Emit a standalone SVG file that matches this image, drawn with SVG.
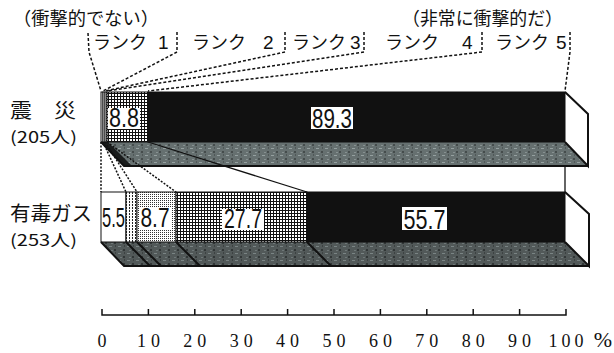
<svg xmlns="http://www.w3.org/2000/svg" width="614" height="353" viewBox="0 0 614 353">
<style>
.jp{font-family:"Noto Sans CJK JP","Noto Sans",sans-serif;fill:#111}
.rk{font-family:"Noto Sans CJK JP","Noto Sans",sans-serif;fill:#111;font-size:18px}
.rd{font-family:"Liberation Sans",Arial,sans-serif;fill:#111;font-size:19px}
.num{font-family:"Liberation Sans",Arial,sans-serif;fill:#111}
.ax{font-family:"Liberation Serif","Times New Roman",serif;font-size:18px;fill:#111;text-anchor:middle}
.dash{fill:none;stroke:#111;stroke-width:1.5;stroke-dasharray:3 2}
.dot{fill:none;stroke:#111;stroke-width:1.5;stroke-dasharray:2 1.5}
.solid{fill:none;stroke:#111;stroke-width:1.3}
.edge{fill:none;stroke:#111;stroke-width:2}
.seg{stroke:#111;stroke-width:1}
.lbox{fill:#fff}
</style>
<defs>
<pattern id="pGrid" width="3" height="3" patternUnits="userSpaceOnUse">
<rect width="3" height="3" fill="#fff"/><rect width="3" height="1" fill="#111"/><rect width="1" height="3" fill="#111"/>
</pattern>
<pattern id="pDots" width="2" height="2" patternUnits="userSpaceOnUse">
<rect width="2" height="2" fill="#fff"/><rect width="1" height="1" fill="#333"/>
</pattern>
<pattern id="pVert" width="3" height="3" patternUnits="userSpaceOnUse">
<rect width="3" height="3" fill="#fff"/><rect width="1" height="2" fill="#222"/>
</pattern>
<pattern id="pGray1" width="9" height="7" patternUnits="userSpaceOnUse">
<rect width="9" height="7" fill="#667070"/><rect x="1" y="1" width="3" height="1" fill="#95a0a0"/><rect x="6" y="4" width="2" height="2" fill="#454c4c"/><rect x="3" y="5" width="2" height="1" fill="#869090"/><rect x="7" y="0" width="1" height="2" fill="#505858"/>
</pattern>
<pattern id="pGray2" width="9" height="7" patternUnits="userSpaceOnUse">
<rect width="9" height="7" fill="#525959"/><rect x="1" y="1" width="3" height="1" fill="#7a8484"/><rect x="6" y="4" width="2" height="2" fill="#323737"/><rect x="3" y="5" width="2" height="1" fill="#6e7777"/><rect x="7" y="0" width="1" height="2" fill="#3d4242"/>
</pattern>
</defs>

<rect width="614" height="353" fill="#fff"/>

<g id="header">
<text class="jp" x="13" y="25" font-size="18" textLength="146" lengthAdjust="spacingAndGlyphs">（衝撃的でない）</text>
<text class="jp" x="402" y="25" font-size="18" textLength="161" lengthAdjust="spacingAndGlyphs">（非常に衝撃的だ）</text>
</g>
<g id="rank1"><text class="rk" x="93" y="49">ランク</text><text class="rd" x="158" y="49">1</text></g>
<g id="rank2"><text class="rk" x="192" y="49">ランク</text><text class="rd" x="263" y="49">2</text></g>
<g id="rank3"><text class="rk" x="292" y="49">ランク</text><text class="rd" x="350" y="49">3</text></g>
<g id="rank4"><text class="rk" x="385" y="49">ランク</text><text class="rd" x="462" y="49">4</text></g>
<g id="rank5"><text class="rk" x="495" y="49">ランク</text><text class="rd" x="556" y="49">5</text></g>

<g id="bar-shinsai">
<text class="jp" x="10" y="118" font-size="20" textLength="66" lengthAdjust="spacingAndGlyphs">震　災</text>
<text class="jp" x="10" y="143" font-size="16" textLength="67" lengthAdjust="spacingAndGlyphs">(205人)</text>
<polygon points="101,142 565,142 588,166 124,166" fill="url(#pGray1)"/>
<polygon points="101,142 108,142 132,166 124,166" fill="#1a1c1c"/>
<polygon points="565,92 588,114 588,166 565,142" fill="#fff"/>
<rect class="seg" x="101" y="92" width="2" height="50" fill="#fff"/>
<rect class="seg" x="103" y="92" width="2" height="50" fill="url(#pVert)"/>
<rect class="seg" x="105" y="92" width="2" height="50" fill="url(#pDots)"/>
<rect class="seg" x="107" y="92" width="41" height="50" fill="url(#pGrid)"/>
<rect class="seg" x="148" y="92" width="417" height="50" fill="#111"/>
<polyline class="edge" points="565,92 588,114 588,166 565,142"/>
<polyline class="edge" points="101,142 124,166 588,166"/>
<rect class="lbox" x="108" y="108" width="32" height="21"/>
<text class="num" x="124" y="127" font-size="27" text-anchor="middle" textLength="30" lengthAdjust="spacingAndGlyphs">8.8</text>
<rect class="lbox" x="311" y="107" width="42" height="22"/>
<text class="num" x="332" y="128" font-size="27" text-anchor="middle" textLength="40" lengthAdjust="spacingAndGlyphs">89.3</text>
</g>

<g id="bar-gas">
<text class="jp" x="10" y="221" font-size="20" textLength="82" lengthAdjust="spacingAndGlyphs">有毒ガス</text>
<text class="jp" x="10" y="246" font-size="16" textLength="67" lengthAdjust="spacingAndGlyphs">(253人)</text>
<polygon points="101,242 565,242 588,266 124,266" fill="url(#pGray2)"/>
<polygon points="565,192 589,214 589,266 565,242" fill="#fff"/>
<rect class="seg" x="101" y="192" width="25" height="50" fill="#fff"/>
<rect class="seg" x="126" y="192" width="11" height="50" fill="url(#pVert)"/>
<rect class="seg" x="137" y="192" width="39" height="50" fill="url(#pDots)"/>
<rect class="seg" x="176" y="192" width="131" height="50" fill="url(#pGrid)"/>
<rect class="seg" x="307" y="192" width="258" height="50" fill="#111"/>
<path class="edge" d="M126,242 L150,266 M137,242 L161,266 M176,242 L200,266 M307,242 L331,266"/>
<polyline class="edge" points="565,192 589,214 589,266 565,242"/>
<polyline class="edge" points="101,242 124,266 589,266"/>
<text class="num" x="113.5" y="227" font-size="27" text-anchor="middle" textLength="23" lengthAdjust="spacingAndGlyphs">5.5</text>
<rect class="lbox" x="139" y="208" width="32" height="21"/>
<text class="num" x="155" y="227" font-size="27" text-anchor="middle" textLength="29" lengthAdjust="spacingAndGlyphs">8.7</text>
<rect class="lbox" x="222" y="209" width="42" height="21"/>
<text class="num" x="243" y="228" font-size="27" text-anchor="middle" textLength="38" lengthAdjust="spacingAndGlyphs">27.7</text>
<rect class="lbox" x="402" y="207" width="45" height="23"/>
<text class="num" x="424.5" y="229" font-size="27" text-anchor="middle" textLength="42" lengthAdjust="spacingAndGlyphs">55.7</text>
</g>

<g id="connectors">
<path class="dash" d="M88,33 L89,52 L101,91"/>
<path class="dash" d="M177,32 L177,52 L103,91"/>
<path class="dash" d="M285,32 L285,52 L105,91"/>
<path class="dash" d="M364,32 L364,52 L107,91"/>
<path class="dash" d="M482,32 L482,52 L148,91"/>
<path class="dash" d="M570,32 L570,52 L565,91"/>
<path class="dot" d="M101,142 L101,192"/>
<path class="dot" d="M103,142 L126,192"/>
<path class="dot" d="M105,142 L137,192"/>
<path class="dot" d="M107,142 L176,192"/>
<path class="solid" d="M148,142 L307,192"/>
<path class="solid" d="M565,166 L565,192"/>
</g>

<g id="axis">
<path fill="none" stroke="#111" stroke-width="1.5" d="M102,309 L102,315 L566,315 L566,309 M148.4,309 V315 M194.8,309 V315 M241.2,309 V315 M287.6,309 V315 M334,309 V315 M380.4,309 V315 M426.8,309 V315 M473.2,309 V315 M519.6,309 V315"/>
<text class="ax" x="102" y="347">0</text>
<text class="ax" x="148.4" y="347" letter-spacing="5" dx="2.5">10</text>
<text class="ax" x="194.8" y="347" letter-spacing="5" dx="2.5">20</text>
<text class="ax" x="241.2" y="347" letter-spacing="5" dx="2.5">30</text>
<text class="ax" x="287.6" y="347" letter-spacing="5" dx="2.5">40</text>
<text class="ax" x="334" y="347" letter-spacing="5" dx="2.5">50</text>
<text class="ax" x="380.4" y="347" letter-spacing="5" dx="2.5">60</text>
<text class="ax" x="426.8" y="347" letter-spacing="5" dx="2.5">70</text>
<text class="ax" x="473.2" y="347" letter-spacing="5" dx="2.5">80</text>
<text class="ax" x="519.6" y="347" letter-spacing="5" dx="2.5">90</text>
<text class="ax" x="566" y="347" letter-spacing="4" dx="2">100</text>
<text class="ax" x="603" y="347" style="font-size:22px">%</text>
</g>
</svg>
